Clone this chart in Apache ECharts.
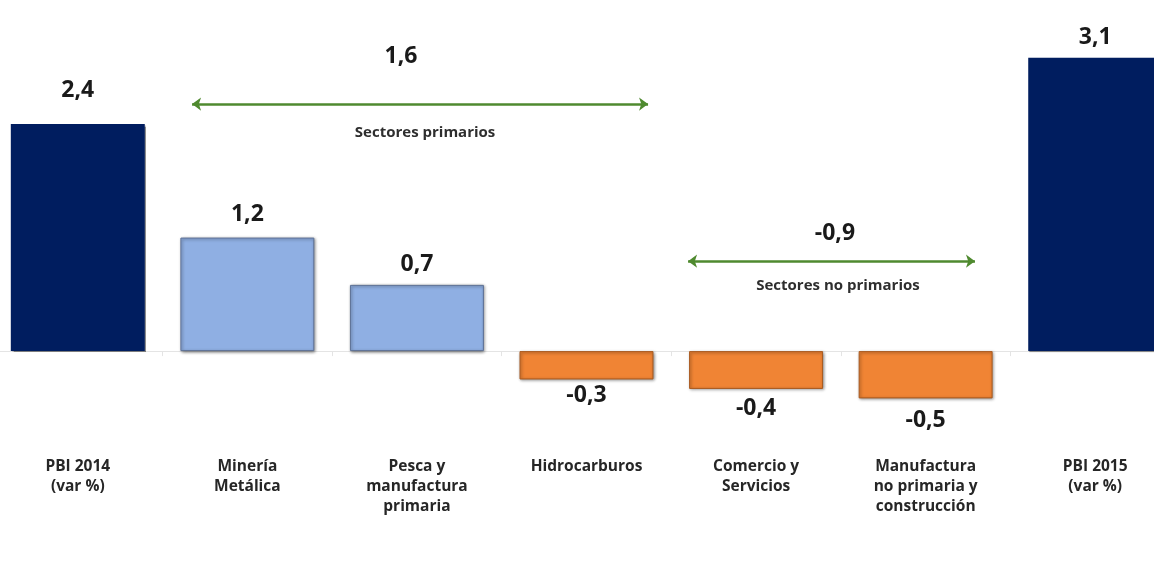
<!DOCTYPE html>
<html>
<head>
<meta charset="utf-8">
<title>Contribución sectorial al PBI</title>
<script src="https://cdn.jsdelivr.net/npm/echarts@6/dist/echarts.min.js"></script>
<style>
  html, body { margin: 0; padding: 0; background: #ffffff; }
  #chart { width: 1154px; height: 575px; }
</style>
</head>
<body>
<div id="chart"></div>
<script>
// Categories along the horizontal axis
const categories = [
  'PBI 2014\n(var %)',
  'Minería\nMetálica',
  'Pesca y\nmanufactura\nprimaria',
  'Hidrocarburos',
  'Comercio y\nServicios',
  'Manufactura\nno primaria y\nconstrucción',
  'PBI 2015\n(var %)'
];

// Bar values (variación % / contribución en puntos)
const values = [2.4, 1.2, 0.7, -0.3, -0.4, -0.5, 3.1];

// Kind of each bar: total, primary sector, non-primary sector
const kinds = ['total', 'primario', 'primario', 'primario', 'noPrimario', 'noPrimario', 'total'];

// Grouped sector contributions shown over the arrows
const sectorNames = ['Sectores primarios', 'Sectores no primarios'];
const sectorTotals = [1.6, -0.9];

// Bar styling by kind / sign
const fillFor = { total: '#001d5f', pos: '#8fafe3', neg: '#f08434' };
const edgeFor = { total: '#00123f', pos: '#5d7196', neg: '#a95a1f' };

// Distance from bar end to its value label
const labelGap = [22, 12, 9, 4, 8, 11, 9];

const fmt = v => v.toFixed(1).replace('.', ',');

const font = '"Open Sans", Lato, "DejaVu Sans", sans-serif';

const barData = values.map((v, i) => {
  const key = kinds[i] === 'total' ? 'total' : (v >= 0 ? 'pos' : 'neg');
  return {
    value: v,
    itemStyle: {
      color: fillFor[key],
      borderColor: edgeFor[key],
      borderWidth: key === 'total' ? 0 : 1,
      shadowColor: 'rgba(0,0,0,0.45)',
      shadowBlur: key === 'total' ? 1 : 3,
      shadowOffsetX: 1,
      shadowOffsetY: 1
    },
    label: {
      position: v >= 0 ? 'top' : 'bottom',
      distance: labelGap[i]
    }
  };
});

// Arrow spans (in band units on the hidden value axis) and text anchors
const arrows = [
  { from: 0.674, to: 3.363, y: 2.611, totalAt: [1.906, 3.118], nameAt: [2.048, 2.304] },
  { from: 3.599, to: 5.291, y: 0.951, totalAt: [4.465, 1.247], nameAt: [4.483, 0.687] }
];

const green = '#4f8a2f';

const textPoints = [];
arrows.forEach((a, i) => {
  textPoints.push({
    value: a.totalAt,
    label: { formatter: fmt(sectorTotals[i]), fontFamily: font, fontWeight: 'bold', fontSize: 23, color: '#1a1a1a' }
  });
  textPoints.push({
    value: a.nameAt,
    label: { formatter: sectorNames[i], fontFamily: font, fontWeight: 'bold', fontSize: 15, color: '#2e2e2e' }
  });
});

const chart = echarts.init(document.getElementById('chart'), null, { renderer: 'canvas' });

chart.setOption({
  animation: false,
  backgroundColor: '#ffffff',
  grid: { left: -7, top: 20, width: 1187, height: 425.7, containLabel: false, outerBoundsMode: 'none' },
  xAxis: [
    {
      type: 'category',
      data: categories,
      axisLine: { onZero: true, lineStyle: { color: '#e4e4e4', width: 1 } },
      axisTick: { show: true, length: 5, lineStyle: { color: '#e4e4e4' } },
      axisLabel: {
        margin: 11,
        fontFamily: font,
        fontWeight: 'bold',
        fontSize: 15.5,
        lineHeight: 20,
        color: '#262626',
        interval: 0
      },
      splitLine: { show: false }
    },
    {
      type: 'value',
      min: -0.5,
      max: 6.5,
      show: false
    }
  ],
  yAxis: {
    type: 'value',
    min: -1,
    max: 3.5,
    show: false,
    splitLine: { show: false }
  },
  series: [
    {
      type: 'bar',
      xAxisIndex: 0,
      data: barData,
      barCategoryGap: '21%',
      label: {
        show: true,
        formatter: p => fmt(p.value),
        fontFamily: font,
        fontWeight: 'bold',
        fontSize: 23,
        color: '#1a1a1a'
      }
    },
    {
      type: 'scatter',
      xAxisIndex: 1,
      symbolSize: 0,
      silent: true,
      itemStyle: { opacity: 1 },
      data: textPoints,
      label: {
        show: true,
        position: 'inside',
        fontFamily: font,
        fontWeight: 'bold'
      },
      markLine: {
        silent: true,
        symbol: ['arrow', 'arrow'],
        symbolSize: [10, 9],
        label: { show: false },
        lineStyle: { color: green, width: 2.5, type: 'solid' },
        data: arrows.map(a => [
          { coord: [a.from, a.y] },
          { coord: [a.to, a.y] }
        ])
      }
    }
  ]
});
</script>
</body>
</html>
